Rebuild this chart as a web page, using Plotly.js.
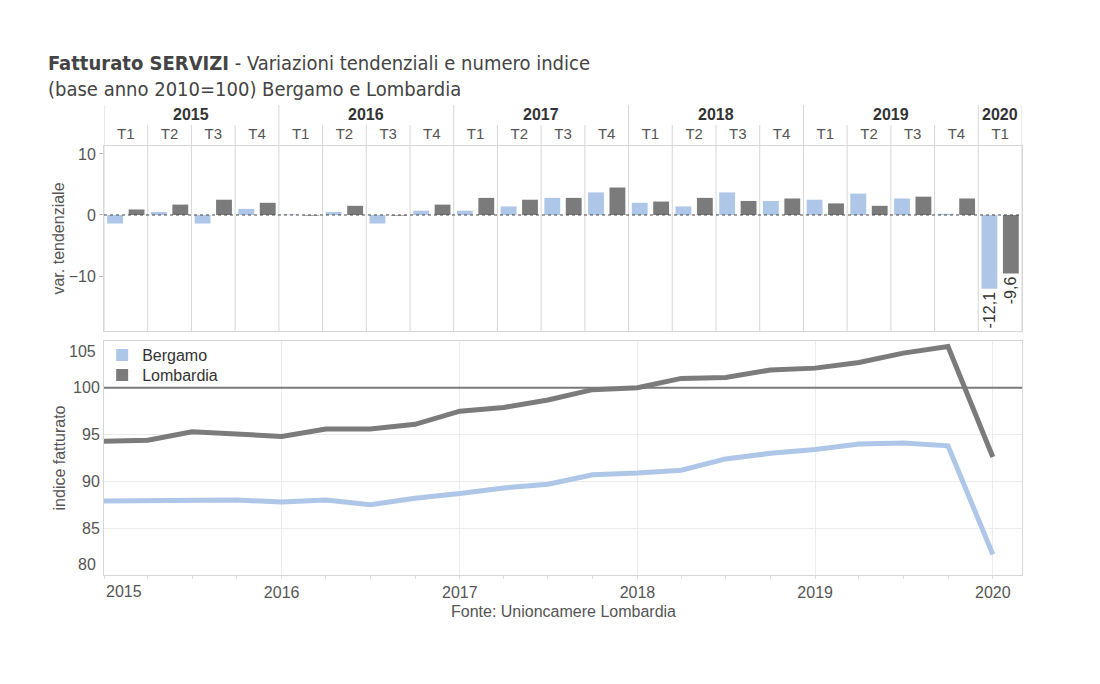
<!DOCTYPE html>
<html>
<head>
<meta charset="utf-8">
<script src="https://cdn.plot.ly/plotly-3.0.1.min.js"></script>
<style>html,body{margin:0;padding:0;background:#fff;}#chart{width:1100px;height:684px;}</style>
</head>
<body>
<div id="chart"></div>
<script>
// ---- data ----
const quarterYears = [2015,2015,2015,2015,2016,2016,2016,2016,2017,2017,2017,2017,2018,2018,2018,2018,2019,2019,2019,2019,2020];
const quarterLabels = ['T1','T2','T3','T4','T1','T2','T3','T4','T1','T2','T3','T4','T1','T2','T3','T4','T1','T2','T3','T4','T1'];
const bergamoVar   = [-1.4,0.5,-1.4,1.0, 0.1,0.5,-1.4,0.7, 0.7,1.4,2.8,3.7, 2.0,1.4,3.7,2.3, 2.5,3.5,2.7,0.2, -12.1];
const lombardiaVar = [0.9,1.7,2.5,2.0, -0.1,1.5,-0.1,1.7, 2.8,2.5,2.8,4.5, 2.2,2.8,2.3,2.7, 1.9,1.5,3.0,2.7, -9.6];
const bergamoIdx   = [87.9,87.9,87.9,88.0, 87.8,88.0,87.5,88.2, 88.7,89.3,89.7,90.7, 90.9,91.2,92.4,93.0, 93.4,94.0,94.1,93.8, 82.2];
const lombardiaIdx = [94.3,94.4,95.3,95.1, 94.8,95.6,95.6,96.1, 97.5,97.9,98.7,99.8, 100.0,101.0,101.1,101.9, 102.1,102.7,103.7,104.4, 92.6];
const seriesNames = ['Bergamo','Lombardia'];
const yearTicks = ['2015','2016','2017','2018','2019','2020'];
const topTicks = [-10,0,10];
const bottomTicks = [85,90,95,100];
const bottomEdgeTicks = [80,105];

// ---- derived ----
const idx = quarterLabels.map((_, i) => i);
const dates = quarterLabels.map((q, i) => {
  const m = (parseInt(q.slice(1)) - 1) * 3 + 1;
  return quarterYears[i] + '-' + String(m).padStart(2, '0') + '-01';
});
const fmt = v => v.toFixed(1).replace('.', ',');
const lastText = arr => arr.map((v, i) => i === arr.length - 1 ? fmt(v) : '');

const cBerg = '#aec6e8';
const cLomb = '#7b7b7b';
const FONT = 'Liberation Sans, Arial, sans-serif';
const gridC = '#d6d6d6';
const FS = 16;

// plot geometry helpers (paper coords)
const topDomain = [0.5688, 1];
const botDomain = [0, 0.5455];
const yQuarterTop = 1.049;
const yYearTop = 1.0956;
const yYearLabel = 1.0723;

const traces = [
  {type:'bar', x: idx, y: bergamoVar, name: seriesNames[0], marker:{color:cBerg}, legend:'legend',
   xaxis:'x', yaxis:'y', text: lastText(bergamoVar), textposition:'outside', textangle:-90,
   constraintext:'none', cliponaxis:false, textfont:{size:FS, color:'#333', family:FONT}, hoverinfo:'y'},
  {type:'bar', x: idx, y: lombardiaVar, name: seriesNames[1], marker:{color:cLomb}, legend:'legend2',
   xaxis:'x', yaxis:'y', text: lastText(lombardiaVar), textposition:'outside', textangle:-90,
   constraintext:'none', cliponaxis:false, textfont:{size:FS, color:'#333', family:FONT}, hoverinfo:'y'},
  {type:'scatter', mode:'lines', x: dates, y: bergamoIdx, name: seriesNames[0], showlegend:false,
   line:{color:cBerg, width:5}, xaxis:'x2', yaxis:'y2'},
  {type:'scatter', mode:'lines', x: dates, y: lombardiaIdx, name: seriesNames[1], showlegend:false,
   line:{color:cLomb, width:5}, xaxis:'x2', yaxis:'y2'}
];

// separator shapes in top panel / header
const shapes = [];
const boundaries = [-0.5].concat(idx.slice(1).map(i => i - 0.5)).concat([idx.length - 0.5]);
boundaries.forEach((b, k) => {
  const isYear = (k === 0 || k === boundaries.length - 1 || quarterLabels[k] === 'T1');
  shapes.push({type:'line', xref:'x', yref:'paper', x0:b, x1:b, y0:topDomain[0], y1: isYear ? yYearTop : yQuarterTop,
    line:{color:gridC, width:1}, layer:'below'});
});
// dotted zero line
shapes.push({type:'line', xref:'x domain', yref:'y', x0:0, x1:1, y0:0, y1:0, line:{color:'#444', width:1, dash:'dot'}, layer:'above'});
// reference line at 100
shapes.push({type:'line', xref:'x2 domain', yref:'y2', x0:0, x1:1, y0:100, y1:100, line:{color:'#7a7a7a', width:2}, layer:'above'});

const annotations = [];
// year labels in header
const uniqYears = [...new Set(quarterYears)];
uniqYears.forEach(y => {
  const ii = idx.filter(i => quarterYears[i] === y);
  const cx = ii.reduce((a, b) => a + b, 0) / ii.length;
  annotations.push({xref:'x', yref:'paper', x: cx, y: yYearLabel, text:'<b>' + y + '</b>', showarrow:false,
    font:{size:FS, color:'#333', family:FONT}, yanchor:'middle'});
});
// first year label (left aligned like the original)
annotations.push({xref:'x2', yref:'paper', x: yearTicks[0] + '-01-01', y: botDomain[0], yshift:-6, text: yearTicks[0], showarrow:false,
  xanchor:'left', yanchor:'top', font:{size:FS, color:'#555', family:FONT}});
// edge y labels of lower panel
bottomEdgeTicks.forEach((v, k) => {
  annotations.push({xref:'paper', yref:'y2', x:0, y:v, xshift:-6, text:String(v), showarrow:false, xanchor:'right',
    yanchor: k === 0 ? 'bottom' : 'top', font:{size:FS, color:'#555', family:FONT}});
});
// source
annotations.push({xref:'paper', yref:'paper', x:0.5, y:-0.084, text:'Fonte: Unioncamere Lombardia', showarrow:false,
  xanchor:'center', yanchor:'middle', font:{size:FS, color:'#555', family:FONT}});

const legendBase = {xanchor:'left', yanchor:'top', bgcolor:'rgba(0,0,0,0)', font:{size:FS, color:'#333', family:FONT}, itemwidth:30};

const layout = {
  width:1100, height:684,
  margin:{l:104, r:78, t:146, b:109},
  paper_bgcolor:'#fff', plot_bgcolor:'#fff',
  font:{family:FONT, size:FS, color:'#555'},
  title:{text:'<b>Fatturato SERVIZI</b> - Variazioni tendenziali e numero indice<br>(base anno 2010=100) Bergamo e Lombardia',
    x:48/1100, xanchor:'left', xref:'container', y:1-70/684, yanchor:'top', yref:'container',
    font:{family:'DejaVu Sans Condensed, DejaVu Sans, sans-serif', size:20, color:'#444'}},
  barmode:'group', bargap:0.02, bargroupgap:0.26,
  showlegend:true,
  legend:Object.assign({x:-0.002, y:0.552}, legendBase),
  legend2:Object.assign({x:-0.002, y:0.5054}, legendBase),
  xaxis:{domain:[0,1], anchor:'y', range:[-0.5, idx.length - 0.5], side:'top', tickmode:'array', tickvals: idx, ticktext: quarterLabels,
    ticks:'', showgrid:false, zeroline:false, showline:true, mirror:true, linecolor:gridC, linewidth:1,
    tickfont:{size:15, color:'#555'}, fixedrange:true},
  yaxis:{domain:topDomain, anchor:'x', range:[-19, 11.3], tickmode:'array', tickvals: topTicks, ticks:'outside', ticklen:4, tickcolor:'#bbb',
    showgrid:false, zeroline:false, showline:true, mirror:true, linecolor:gridC,
    title:{text:'var. tendenziale', font:{size:FS, color:'#555'}, standoff:0}, tickfont:{size:FS, color:'#555'}},
  xaxis2:{domain:[0,1], anchor:'y2', type:'date', range:['2015-01-01','2020-03-01'], tickmode:'array',
    tickvals: yearTicks.map(y => y + '-01-01'), ticktext: yearTicks.map((y, i) => i === 0 ? '' : y),
    ticks:'outside', ticklen:3, tickcolor:'#ddd', showgrid:true, gridcolor:'#ececec', zeroline:false,
    showline:true, mirror:true, linecolor:gridC, tickfont:{size:FS, color:'#555'},
    minor:{dtick:'M3', ticks:'outside', ticklen:3, tickcolor:'#ddd', showgrid:false}},
  yaxis2:{domain:botDomain, anchor:'x2', range:[80, 105], tickmode:'array', tickvals: bottomTicks, ticks:'', showgrid:true, gridcolor:'#ececec',
    zeroline:false, showline:true, mirror:true, linecolor:gridC,
    title:{text:'indice fatturato', font:{size:FS, color:'#555'}, standoff:3}, tickfont:{size:FS, color:'#555'}},
  shapes: shapes,
  annotations: annotations
};

Plotly.newPlot('chart', traces, layout, {displayModeBar:false, staticPlot:true});
</script>
</body>
</html>
